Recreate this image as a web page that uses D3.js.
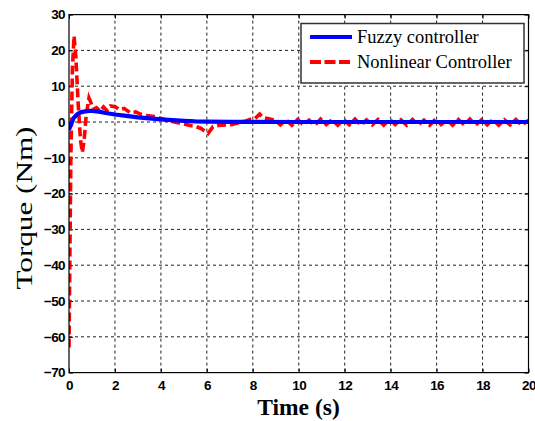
<!DOCTYPE html>
<html><head><meta charset="utf-8">
<script src="https://cdn.jsdelivr.net/npm/d3@7"></script>
<style>body{margin:0;background:#fff}svg{display:block}</style>
</head><body>
<svg id="c" width="535" height="421"></svg>
<script>
const xTicks = [0,2,4,6,8,10,12,14,16,18,20];
const yTicks = [30,20,10,0,-10,-20,-30,-40,-50,-60,-70];
const seriesNames = ["Fuzzy controller","Nonlinear Controller"];
const fuzzyT = [0,0.1,0.2,0.35,0.5,0.65,0.85,1.0,1.3,1.6,2.0,2.5,3.0,3.5,4.0,4.5,5.0,5.5,6.0,7.0,8.0,10.0,20.0];
const fuzzyV = [-2.2,-0.5,1.1,2.1,2.7,2.9,3.1,3.1,2.9,2.5,2.1,1.7,1.3,1.0,0.75,0.5,0.3,0.15,0.1,0.05,0.02,0,0];
const nonlinT = [0,0.08,0.15,0.22,0.3,0.4,0.5,0.58,0.66,0.75,0.87,0.95,1.05,1.2,1.35,1.5,1.65,1.8,2.0,2.2,2.4,2.66,2.9,3.1,3.4,3.7,4.0,4.3,4.6,4.84,5.05,5.27,5.5,5.75,5.93,6.05,6.27,6.5,6.8,7.1,7.4,7.7,7.9,8.1,8.3,8.45,8.7,9.0,
 9.2,9.45,9.7,9.95,10.2,10.45,10.7,10.95,11.2,11.45,11.7,11.95,12.2,12.45,12.7,12.95,13.2,13.45,13.7,13.95,14.2,14.45,14.7,14.95,15.2,15.45,15.7,15.95,16.2,16.45,16.7,16.95,17.2,17.45,17.7,17.95,18.2,18.45,18.7,18.95,19.2,19.45,19.7,20.0];
const nonlinV = [-63,-10,15,24,18,5,-5,-8.5,-5,2,6.7,5.5,3.5,4,3,4.2,3.2,4.5,4.3,3.5,3.8,2.6,2.8,2.2,1.8,1.5,1.0,0.4,0,-0.4,-0.6,-1.0,-1.2,-1.8,-2.7,-3.2,-1.3,-1.0,-0.8,-0.7,-0.2,0.3,0.8,1.0,2.2,1.2,0.9,0.4,
 -0.8,0.6,-0.9,0.7,-0.8,0.5,-0.9,0.8,-0.7,0.6,-0.9,0.7,-0.8,0.8,-0.9,0.6,-0.8,0.7,-0.9,0.8,-0.7,0.6,-0.9,0.7,-0.8,0.5,-0.9,0.8,-0.7,0.6,-0.9,0.7,-0.8,0.8,-0.9,0.6,-0.8,0.7,-0.9,0.6,-0.8,0.7,-0.9,0.5];

const svg = d3.select("#c");
const L = 69, R = 528.5, T = 14.6, B = 372.6;
const x = d3.scaleLinear().domain([0,20]).range([L,R]);
const y = d3.scaleLinear().domain([-70,30]).range([B,T]);

const tickFont = "'Liberation Sans',Arial,sans-serif";
const serif = "'Liberation Serif','Times New Roman',serif";

// grid
const g = svg.append("g");
g.selectAll("line.gx").data(xTicks.slice(1,-1)).enter().append("line")
 .attr("x1",d=>x(d)).attr("x2",d=>x(d)).attr("y1",T).attr("y2",B)
 .attr("stroke","#222").attr("stroke-width",1).attr("stroke-dasharray","3,3");
g.selectAll("line.gy").data(yTicks.slice(1,-1)).enter().append("line")
 .attr("y1",d=>y(d)).attr("y2",d=>y(d)).attr("x1",L).attr("x2",R)
 .attr("stroke","#222").attr("stroke-width",1).attr("stroke-dasharray","3,3");

// axes
const xAxis = d3.axisBottom(x).tickValues(xTicks).tickSize(-4).tickPadding(8).tickFormat(d3.format("d"));
const yAxis = d3.axisLeft(y).tickValues(yTicks).tickSize(-4).tickPadding(4).tickFormat(d3.format("d"));
const gx = svg.append("g").attr("transform",`translate(0,${B})`).call(xAxis);
const gy = svg.append("g").attr("transform",`translate(${L},0)`).call(yAxis);
const gxt = svg.append("g").attr("transform",`translate(0,${T})`).call(d3.axisTop(x).tickValues(xTicks).tickSize(-4).tickFormat(""));
const gyr = svg.append("g").attr("transform",`translate(${R},0)`).call(d3.axisRight(y).tickValues(yTicks).tickSize(-4).tickFormat(""));
[gx,gy,gxt,gyr].forEach(a=>{a.select(".domain").remove();a.selectAll("line").attr("stroke","#000");});
[gx,gy].forEach(a=>a.selectAll("text").attr("font-family",tickFont).attr("font-weight","bold").attr("font-size",13.5).attr("fill","#000").attr("letter-spacing",-0.6));

// lines (red first, blue on top)
const lineGen = d3.line().x(d=>x(d[0])).y(d=>y(d[1]));
svg.append("clipPath").attr("id","cp").append("rect").attr("x",L).attr("y",T).attr("width",R-L).attr("height",B-T);
svg.append("path").datum(nonlinT.map((t,i)=>[t,nonlinV[i]]))
 .attr("d",lineGen).attr("fill","none").attr("stroke","#ff0000").attr("stroke-width",3.6)
 .attr("stroke-dasharray","9,4").attr("clip-path","url(#cp)");
svg.append("path").datum(fuzzyT.map((t,i)=>[t,fuzzyV[i]]))
 .attr("d",lineGen).attr("fill","none").attr("stroke","#0000ff").attr("stroke-width",4.2).attr("clip-path","url(#cp)");

// frame
svg.append("rect").attr("x",L).attr("y",T).attr("width",R-L).attr("height",B-T)
 .attr("fill","none").attr("stroke","#000").attr("stroke-width",1.2);

// legend
const lg = svg.append("g");
lg.append("rect").attr("x",301).attr("y",23.5).attr("width",223).attr("height",59.5)
 .attr("fill","#fff").attr("stroke","#333").attr("stroke-width",1.5);
const colors = ["#0000ff","#ff0000"];
seriesNames.forEach((n,i)=>{
  const yy = 37 + i*25;
  lg.append("line").attr("x1",310).attr("x2",352).attr("y1",yy).attr("y2",yy)
    .attr("stroke",colors[i]).attr("stroke-width",4).attr("stroke-dasharray",i?"11,3.5":null);
  lg.append("text").attr("x",357).attr("y",yy+6).text(n)
    .attr("font-family",serif).attr("font-size",18.5).attr("fill","#000");
});

// axis titles
svg.append("text").attr("x",298.5).attr("y",415).attr("text-anchor","middle").text("Time (s)")
 .attr("font-family",serif).attr("font-weight","bold").attr("font-size",23.5);
svg.append("text").attr("transform","translate(32,208) rotate(-90)").attr("text-anchor","middle").text("Torque (Nm)")
 .attr("font-family",serif).attr("font-size",24).attr("textLength",163).attr("lengthAdjust","spacingAndGlyphs");
</script>
</body></html>
